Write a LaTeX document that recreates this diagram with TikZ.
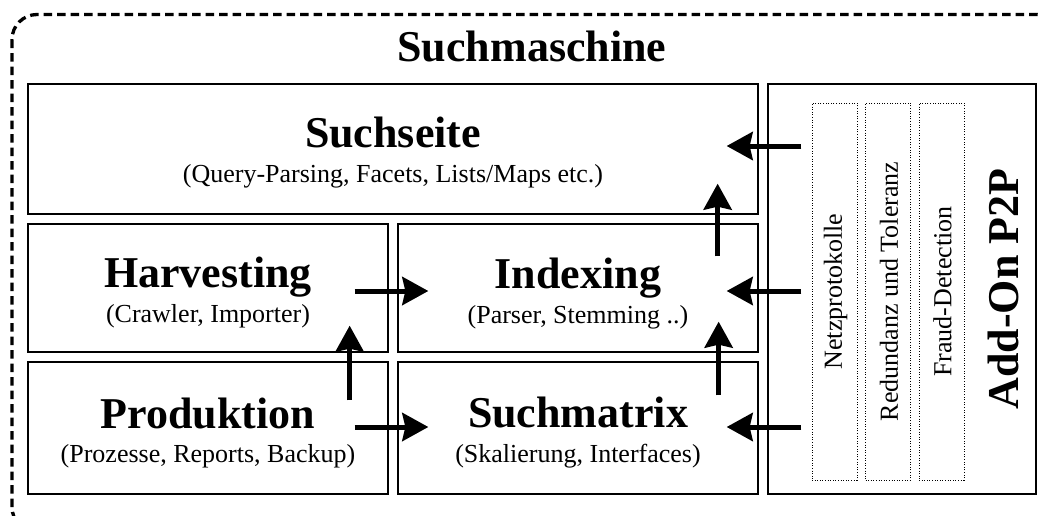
\documentclass[tikz,border=0pt]{standalone}
\usepackage{fontspec}
\setmainfont{Liberation Serif}
\usetikzlibrary{arrows.meta,calc}
\begin{document}
\begin{tikzpicture}[x=1pt,y=-1pt,
  box/.style={draw, line width=1.3pt, rectangle, inner sep=0pt},
  ttl/.style={font=\fontsize{44}{48}\selectfont\bfseries, anchor=base, inner sep=0pt},
  sub/.style={font=\fontsize{26}{30}\selectfont, anchor=base, inner sep=0pt},
  dotbox/.style={draw, dash pattern=on 1pt off 1.6pt, line width=1pt, inner sep=0pt, minimum width=45pt, minimum height=377pt},
  arr/.style={line width=5pt, -{Stealth[length=26pt,width=28pt,inset=3pt]}}]
\useasboundingbox (0,0) rectangle (1042,515);
\begin{scope}
\clip (0,0) rectangle (1042,515);
\draw[line width=3.3pt, dash pattern=on 8.5pt off 5pt, rounded corners=25pt] (12,14.5) rectangle (1062,532);
\end{scope}
% boxes
\node[box, minimum width=730pt, minimum height=130pt] (suchseite) at (393,149) {};
\node[box, minimum width=360pt, minimum height=128pt] (harvesting) at (208,288) {};
\node[box, minimum width=360pt, minimum height=128pt] (indexing) at (578,288) {};
\node[box, minimum width=360pt, minimum height=132pt] (produktion) at (208,428) {};
\node[box, minimum width=360pt, minimum height=132pt] (suchmatrix) at (578,428) {};
\node[box, minimum width=268pt, minimum height=410pt] (addon) at (902,289) {};
\node[dotbox] (d1) at (834.5,291.5) {};
\node[dotbox] (d2) at (888,291.5) {};
\node[dotbox] (d3) at (941.5,291.5) {};
% texts
\node[ttl] (t0) at (532,61) {Suchmaschine};
\node[ttl] (t1) at (393,147) {Suchseite};
\node[sub] (s1) at (393,182) {(Query-Parsing, Facets, Lists/Maps etc.)};
\node[ttl] (t2) at (208,287) {Harvesting};
\node[sub] (s2) at (208,322) {(Crawler, Importer)};
\node[ttl] (t3) at (578,288) {Indexing};
\node[sub] (s3) at (578,323) {(Parser, Stemming ..)};
\node[ttl] (t4) at (208,428) {Produktion};
\node[sub] (s4) at (208,462) {(Prozesse, Reports, Backup)};
\node[ttl] (t5) at (578,427) {Suchmatrix};
\node[sub] (s5) at (578,462) {(Skalierung, Interfaces)};
\node[sub, anchor=center, rotate=90] (r1) at ($(d1.center)+(1,0)$) {Netzprotokolle};
\node[sub, anchor=center, rotate=90] (r2) at ($(d2.center)+(1,0)$) {Redundanz und Toleranz};
\node[sub, anchor=center, rotate=90] (r3) at ($(d3.center)+(1,0)$) {Fraud-Detection};
\node[ttl, anchor=center, rotate=90] (r4) at (1003,289) {Add-On P2P};
% arrows
\draw[arr] ($(addon.west |- suchseite.center)+(34,-3)$) -- ($(suchseite.east)+(-32,-3)$);
\draw[arr] ($(addon.west |- indexing.center)+(34,3)$) -- ($(indexing.east)+(-32,3)$);
\draw[arr] ($(addon.west |- suchmatrix.center)+(34,-1)$) -- ($(suchmatrix.east)+(-32,-1)$);
\draw[arr] ($(indexing.north east)+(-41,33)$) -- ($(suchseite.south east)+(-41,-31)$);
\draw[arr] ($(suchmatrix.north east)+(-40,34)$) -- ($(indexing.south east)+(-40,-31)$);
\draw[arr] ($(produktion.north east)+(-39,39)$) -- ($(harvesting.south east)+(-39,-27)$);
\draw[arr] ($(harvesting.east)+(-34,3)$) -- ($(indexing.west)+(31,3)$);
\draw[arr] ($(produktion.east)+(-34,-1)$) -- ($(suchmatrix.west)+(31,-1)$);
\end{tikzpicture}
\end{document}
